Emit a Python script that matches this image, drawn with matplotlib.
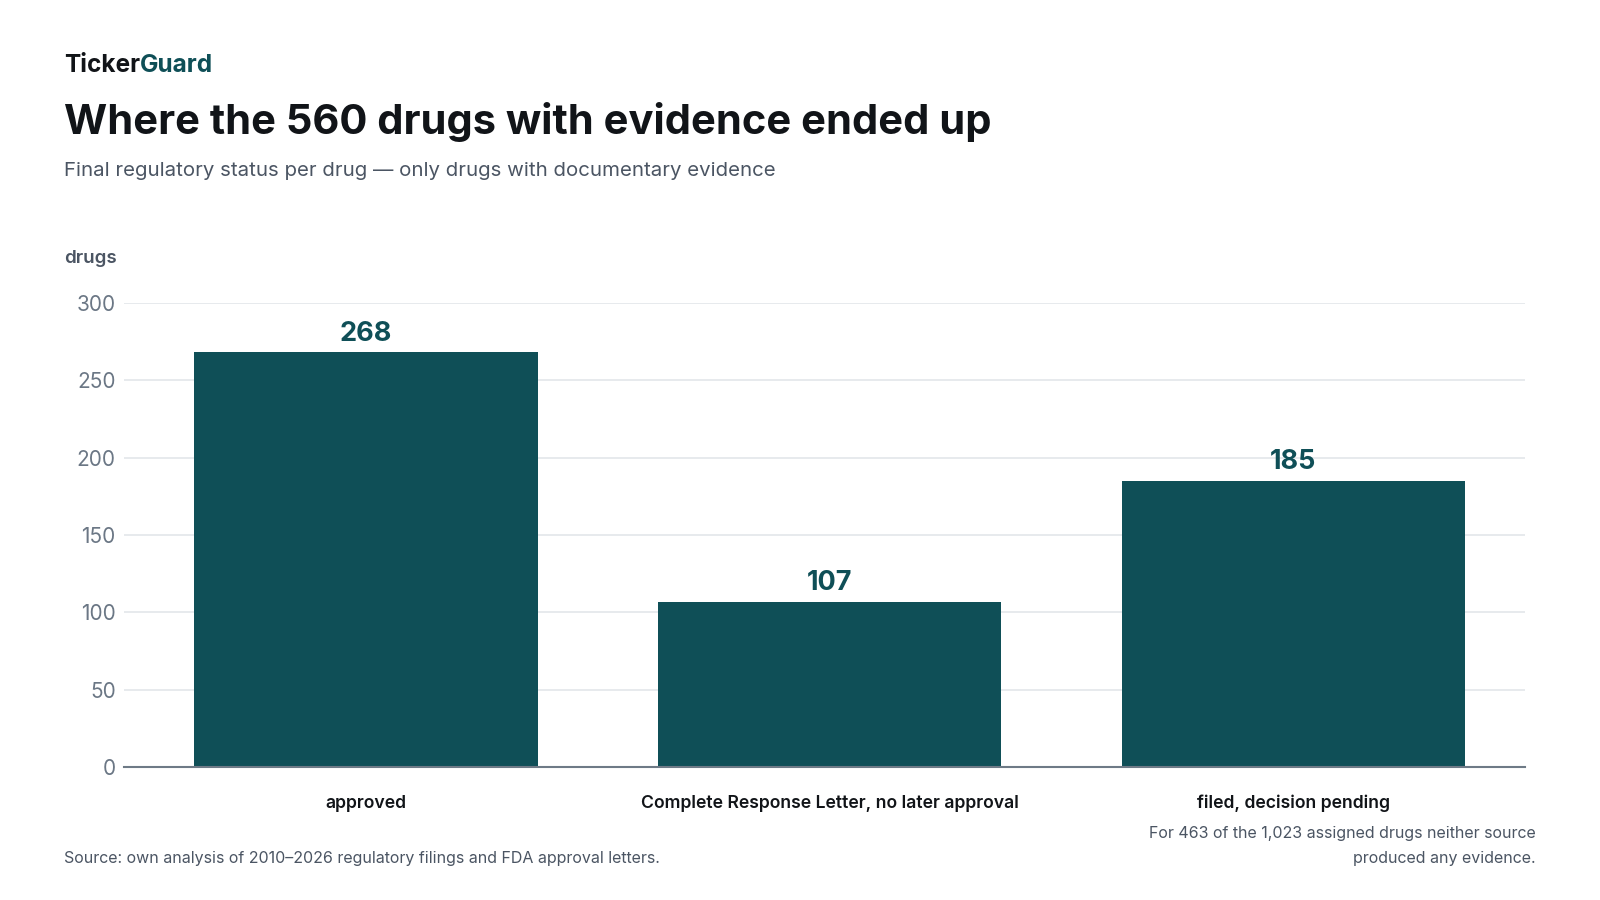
import matplotlib.pyplot as plt

plt.rcParams['font.family'] = ['Inter', 'DejaVu Sans']

# Data
categories = ['approved', 'Complete Response Letter, no later approval', 'filed, decision pending']
drugs = [268, 107, 185]
y_ticks = [0, 50, 100, 150, 200, 250, 300]

TEAL = '#0f4f57'
INK = '#111418'
GREY = '#4b5563'
TICK = '#6b7785'

W, H = 1600, 900
fig = plt.figure(figsize=(16, 9), dpi=100)
fig.patch.set_facecolor('white')

def fy(px):
    return 1 - px / H

def fx(px):
    return px / W

ax = fig.add_axes([fx(124), fy(767), fx(1525) - fx(124), fy(303) - fy(767)])

x = range(len(categories))
bars = ax.bar(x, drugs, width=0.74, color=TEAL, zorder=3)

for xi, v in zip(x, drugs):
    ax.annotate(str(v), (xi, v), xytext=(0, 8.5), textcoords='offset points',
                ha='center', va='baseline', fontsize=19.5, fontweight='bold', color=TEAL)

ax.set_xlim(-0.522, 2.5)
ax.set_ylim(0, 300)
ax.set_yticks(y_ticks)
ax.set_xticks(list(x))
ax.set_xticklabels(categories, fontsize=12.7, fontweight='semibold', color=INK)
ax.tick_params(axis='x', length=0, pad=20)
ax.tick_params(axis='y', length=0, pad=6, labelsize=15, labelcolor=TICK)
ax.grid(axis='y', color='#e3e6ea', linewidth=1.2, zorder=0)
for s in ['top', 'right', 'left']:
    ax.spines[s].set_visible(False)
ax.spines['bottom'].set_color('#6e7a86')
ax.spines['bottom'].set_linewidth(1.5)
ax.spines['bottom'].set_zorder(4)

# Header
brand = fig.text(fx(64), fy(71.5), 'Ticker', fontsize=17.6, fontweight='bold', color=INK, va='baseline')
fig.canvas.draw()
bb = brand.get_window_extent()
fig.text(bb.x1 / W, fy(71.5), 'Guard', fontsize=17.6, fontweight='bold', color=TEAL, va='baseline')

fig.text(fx(64), fy(134.5), 'Where the 560 drugs with evidence ended up',
         fontsize=30, fontweight='bold', color=INK, va='baseline')
fig.text(fx(64), fy(176), 'Final regulatory status per drug \u2014 only drugs with documentary evidence',
         fontsize=14.7, color=GREY, va='baseline')
fig.text(fx(64), fy(263), 'drugs', fontsize=13.5, fontweight='semibold', color=GREY, va='baseline')

# Footer
fig.text(fx(64), fy(863), 'Source: own analysis of 2010\u20132026 regulatory filings and FDA approval letters.',
         fontsize=11.5, color=GREY, va='baseline')
fig.text(fx(1536), fy(863),
         'For 463 of the 1,023 assigned drugs neither source\nproduced any evidence.',
         fontsize=11.5, color=GREY, ha='right', va='baseline', multialignment='right', linespacing=1.8)

fig.savefig('out.png', dpi=100, facecolor='white')
